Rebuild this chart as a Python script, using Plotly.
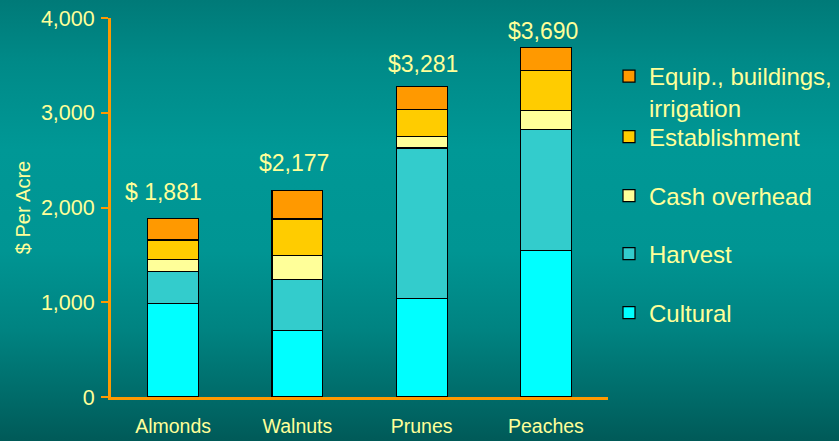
import base64
import plotly.graph_objects as go

# ---- data ----
crops = ["Almonds", "Walnuts", "Prunes", "Peaches"]
cultural = [983, 703, 1040, 1546]
harvest = [342, 537, 1587, 1278]
cash_overhead = [126, 253, 126, 200]
establishment = [207, 386, 282, 422]
equip = [223, 298, 246, 244]
totals = [1881, 2177, 3281, 3690]
total_labels = ["$ 1,881", "$2,177", "$3,281", "$3,690"]
series_names = ["Cultural", "Harvest", "Cash overhead", "Establishment",
                "Equip., buildings,<br>irrigation"]
y_ticks = [0, 1000, 2000, 3000, 4000]

# ---- styles ----
series_values = [cultural, harvest, cash_overhead, establishment, equip]
colors = ["#00FFFF", "#33CCCC", "#FFFF99", "#FFCC00", "#FF9900"]
legend_ids = ["legend5", "legend4", "legend3", "legend2", "legend"]
legend_ypx = [313, 254, 196, 137, 92]
label_shift = [27, 28, 22, 16]
label_xshift = [-10, -3, 1, -3]
TXT = "#FFFF99"
AX = "#FF9900"
FONT = "Arial, Liberation Sans, sans-serif"
W, H = 839, 441
L, R, T, B = 111, 231, 18, 44

fig = go.Figure()
for name, vals, col, lg in zip(series_names, series_values, colors, legend_ids):
    fig.add_trace(go.Bar(
        x=crops, y=vals, name=name, width=0.41,
        marker=dict(color=col, line=dict(color="#000000", width=1.2)),
        legend=lg, hoverinfo="x+y+name",
    ))

for c, tot, lab, ys, xs in zip(crops, totals, total_labels, label_shift, label_xshift):
    fig.add_annotation(x=c, y=tot, text=lab, showarrow=False, yanchor="middle",
                       yshift=ys, xshift=xs, font=dict(size=23, color=TXT, family=FONT))

# background gradient as svg image
svg = f'''<svg xmlns="http://www.w3.org/2000/svg" width="{W}" height="{H}" viewBox="0 0 {W} {H}" preserveAspectRatio="none">
<defs><linearGradient id="g" x1="0" y1="0" x2="0" y2="1">
<stop offset="0" stop-color="#007A78"/>
<stop offset="0.14" stop-color="#008A88"/>
<stop offset="0.34" stop-color="#009896"/>
<stop offset="0.57" stop-color="#009593"/>
<stop offset="0.75" stop-color="#008381"/>
<stop offset="0.9" stop-color="#006B69"/>
<stop offset="1" stop-color="#005A58"/>
</linearGradient></defs>
<rect x="0" y="0" width="{W}" height="{H}" fill="url(#g)"/></svg>'''
src = "data:image/svg+xml;base64," + base64.b64encode(svg.encode()).decode()
pw, ph = W - L - R, H - T - B
fig.add_layout_image(dict(source=src, xref="paper", yref="paper",
                          x=-L / pw, y=1 + T / ph, sizex=W / pw, sizey=H / ph,
                          xanchor="left", yanchor="top", sizing="stretch", layer="below"))

legend_common = dict(xref="container", yref="container", x=609 / W, xanchor="left",
                     yanchor="middle", bgcolor="rgba(0,0,0,0)", valign="top",
                     font=dict(size=24, color=TXT, family=FONT))
layout_legends = {}
for lg, ypx in zip(legend_ids, legend_ypx):
    layout_legends[lg] = dict(legend_common, y=1 - ypx / H)

fig.update_layout(
    width=W, height=H, barmode="stack",
    margin=dict(l=L, r=R, t=T, b=B, autoexpand=False),
    paper_bgcolor="#008886", plot_bgcolor="rgba(0,0,0,0)",
    font=dict(family=FONT, color=TXT),
    showlegend=True,
    **layout_legends,
)
fig.update_xaxes(showline=True, linecolor=AX, linewidth=3, ticks="",
                 showgrid=False, zeroline=False, range=[-0.5, 3.5], automargin=False,
                 tickfont=dict(size=19.5, color=TXT, family=FONT), ticklabelstandoff=10)
fig.update_yaxes(range=[0, 4000], tickvals=y_ticks, tickformat=",d", automargin=False,
                 showline=True, linecolor=AX, linewidth=3,
                 ticks="outside", ticklen=7, tickwidth=2, tickcolor=AX,
                 showgrid=False, zeroline=False,
                 tickfont=dict(size=21.5, color=TXT, family=FONT), ticklabelstandoff=2,
                 title=dict(text="$ Per Acre", font=dict(size=20, color=TXT, family=FONT), standoff=5))

fig.write_html("out.html", config={"displayModeBar": False},
               post_script="document.body.style.margin='0';document.body.style.overflow='hidden';")
